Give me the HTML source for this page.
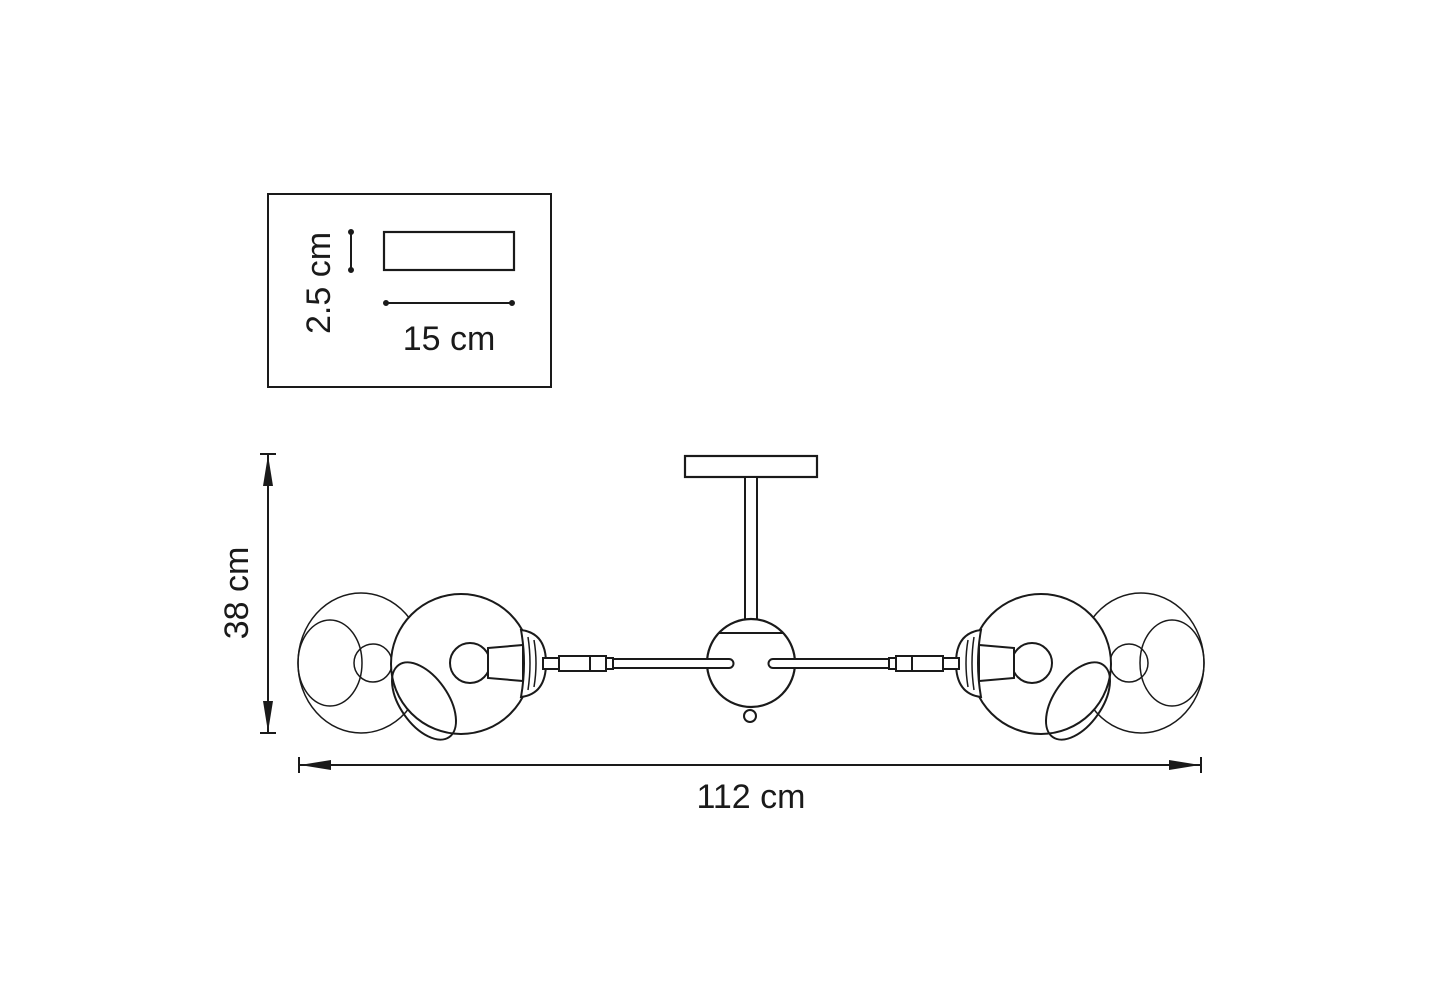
<!DOCTYPE html>
<html><head><style>html,body{margin:0;padding:0;background:#fff}svg{display:block}</style></head>
<body>
<svg width="1429" height="1000" viewBox="0 0 1429 1000" xmlns="http://www.w3.org/2000/svg" font-family="Liberation Sans, sans-serif" fill="none" stroke="#1a1a1a">
<rect x="268" y="194" width="283" height="193" stroke-width="2"/>
<rect x="384" y="232" width="130" height="38" stroke-width="2.2"/>
<line x1="351" y1="232" x2="351" y2="270" stroke-width="2"/>
<circle cx="351" cy="232" r="2.5" fill="#1a1a1a"/><circle cx="351" cy="270" r="2.5" fill="#1a1a1a"/>
<line x1="386" y1="303" x2="512" y2="303" stroke-width="2"/>
<circle cx="386" cy="303" r="2.5" fill="#1a1a1a"/><circle cx="512" cy="303" r="2.5" fill="#1a1a1a"/>
<text x="449" y="350" font-size="34" text-anchor="middle" fill="#1a1a1a" stroke="none">15 cm</text>
<text transform="translate(330,283) rotate(-90)" font-size="34" text-anchor="middle" fill="#1a1a1a" stroke="none">2.5 cm</text>
<line x1="268" y1="454" x2="268" y2="733" stroke-width="2"/>
<line x1="260" y1="454" x2="276" y2="454" stroke-width="2"/>
<line x1="260" y1="733" x2="276" y2="733" stroke-width="2"/>
<polygon points="268,455 263,486 273,486" fill="#1a1a1a" stroke="none"/>
<polygon points="268,732 263,701 273,701" fill="#1a1a1a" stroke="none"/>
<text transform="translate(248,593) rotate(-90)" font-size="34" text-anchor="middle" fill="#1a1a1a" stroke="none">38 cm</text>
<line x1="299" y1="765" x2="1201" y2="765" stroke-width="2"/>
<line x1="299" y1="757" x2="299" y2="773" stroke-width="2"/>
<line x1="1201" y1="757" x2="1201" y2="773" stroke-width="2"/>
<polygon points="300,765 331,760 331,770" fill="#1a1a1a" stroke="none"/>
<polygon points="1200,765 1169,760 1169,770" fill="#1a1a1a" stroke="none"/>
<text x="751" y="808" font-size="34" text-anchor="middle" fill="#1a1a1a" stroke="none">112 cm</text>
<rect x="685" y="456" width="132" height="21" stroke-width="2.2" fill="#fff"/>
<rect x="745" y="477" width="12" height="143" stroke-width="2" fill="#fff"/>
<circle cx="751" cy="663" r="44" stroke-width="2.2" fill="#fff"/>
<path d="M719 633 L783 633" stroke-width="2"/>
<circle cx="750" cy="716" r="6" stroke-width="2" fill="#fff"/>
<path d="M610 659 H729 a4.5 4.5 0 0 1 0 9 H610" stroke-width="2" fill="#fff"/>
<path d="M892 659 H773 a4.5 4.5 0 0 0 0 9 H892" stroke-width="2" fill="#fff"/>
<g id="L">
<ellipse cx="361" cy="663" rx="63" ry="70" stroke-width="1.5"/>
<ellipse cx="330" cy="663" rx="32" ry="43" stroke-width="1.5"/>
<circle cx="373" cy="663" r="19" stroke-width="1.5"/>
<circle cx="461" cy="664" r="70" stroke-width="2" fill="#fff"/>
<ellipse cx="424" cy="701" rx="44" ry="24" transform="rotate(55 424 701)" stroke-width="2"/>
<circle cx="470" cy="663" r="20" stroke-width="2"/>
<path d="M488 648 L523 645 L523 681 L488 678 Z" stroke-width="2" fill="#fff"/>
<path d="M521 630 Q546 633 546 663 Q546 694 521 697 Q527 663 521 630 Z" stroke-width="2" fill="#fff"/>
<path d="M528 637 Q532 663 528 690 M534 640 Q538 663 534 687" stroke-width="1.5"/>
<rect x="543" y="658" width="70" height="11" stroke-width="2" fill="#fff"/>
<rect x="559" y="656" width="47" height="15" stroke-width="2" fill="#fff"/>
<line x1="590" y1="656" x2="590" y2="671" stroke-width="2"/>
</g>
<use href="#L" transform="translate(1502,0) scale(-1,1)"/>
</svg>
</body></html>
